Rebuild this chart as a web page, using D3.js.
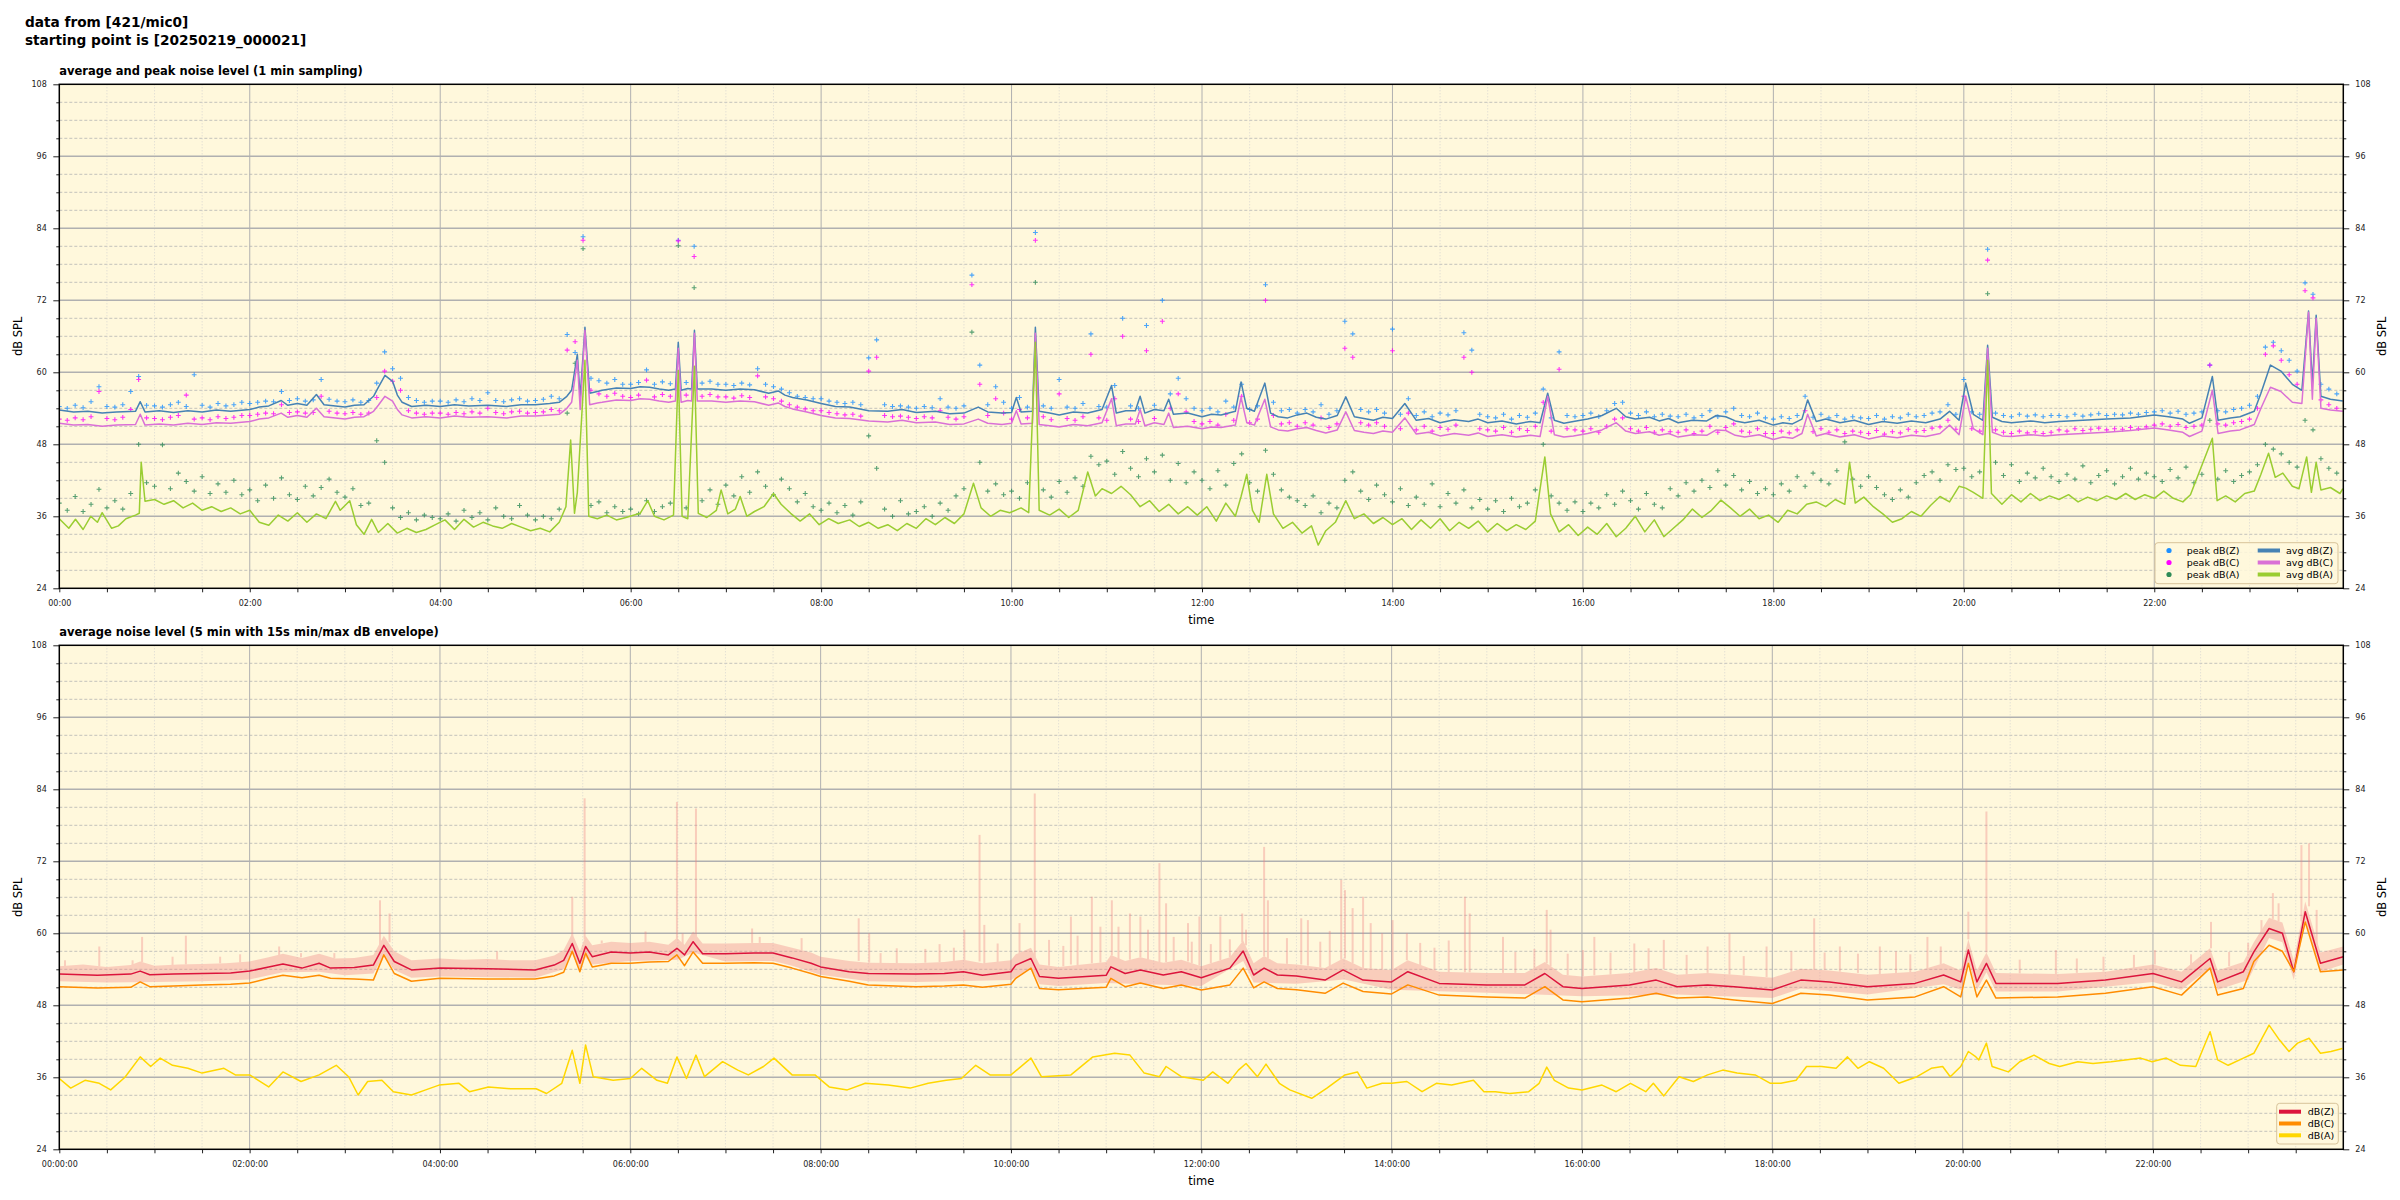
<!DOCTYPE html>
<html>
<head>
<meta charset="utf-8">
<script src="https://cdn.jsdelivr.net/npm/d3@7"></script>
<style>
  body { margin: 0; background: #fff; }
  svg { font-family: "DejaVu Sans", sans-serif; }
</style>
</head>
<body>
<svg id="chart" width="2400" height="1200"></svg>
<script>
// ---- data (time in hours since 00:00, level in dB SPL) ----

var yTicks = [24, 36, 48, 60, 72, 84, 96, 108];
var hourTicks = [0, 2, 4, 6, 8, 10, 12, 14, 16, 18, 20, 22];

// 1 min sampling, shown every 5 min: peak levels
var peakZ = [
54.3,54.0,54.5,54.1,55.1,57.6,54.3,54.2,54.6,56.8,59.3,54.5,
54.4,54.2,54.6,55.0,54.3,59.6,54.5,54.2,54.8,54.4,54.6,55.0,
54.8,55.0,55.2,55.1,56.8,55.3,55.6,55.2,55.4,58.8,55.5,55.2,
55.1,55.4,55.0,55.3,58.2,63.4,60.6,59.0,55.8,55.3,55.0,55.2,
55.2,55.0,55.4,55.1,55.6,55.3,56.6,55.3,55.1,55.4,55.6,55.2,
55.3,55.5,56.0,55.6,66.3,63.3,82.6,59.0,58.6,58.2,58.8,58.0,
58.0,58.3,60.4,58.0,58.4,58.1,82.0,58.3,81.0,58.2,58.5,58.0,
58.0,57.8,58.2,57.9,60.6,58.0,57.6,57.2,56.6,56.0,55.8,55.6,
55.6,55.2,55.0,54.8,55.0,54.6,62.4,65.4,54.6,54.3,54.4,54.2,
54.0,54.3,54.1,55.6,54.2,54.0,54.4,76.2,61.2,54.6,57.6,55.0,
54.0,55.8,54.2,83.3,54.4,54.0,58.8,54.2,54.0,54.8,66.4,54.3,
54.2,57.8,69.0,54.4,54.0,67.8,54.5,72.0,56.4,59.0,55.6,54.0,
53.6,54.0,53.4,55.2,54.2,58.0,53.8,54.4,74.6,55.0,53.6,53.8,
53.2,53.8,53.4,54.6,53.0,53.6,68.5,66.4,53.8,53.4,53.8,53.2,
67.2,53.0,55.6,52.8,53.4,52.6,53.2,52.9,53.6,66.6,63.7,53.0,
52.6,52.4,53.0,52.2,52.8,52.5,53.2,57.2,52.4,63.4,52.8,52.6,
52.8,53.2,52.6,53.6,54.8,55.0,53.2,52.8,53.4,52.6,53.0,52.7,
52.6,53.0,52.4,52.8,53.6,52.6,53.4,54.0,52.8,52.6,53.2,52.4,
52.2,52.6,52.3,52.8,56.0,52.5,53.0,52.4,52.8,52.2,52.6,52.4,
52.3,52.8,52.2,52.6,52.4,53.0,52.6,52.8,53.2,53.4,54.6,53.0,
58.8,53.4,53.0,80.5,53.2,52.8,52.6,53.0,52.7,52.9,52.6,52.8,
52.8,52.6,53.0,52.7,52.9,53.1,52.8,53.0,52.9,53.2,53.0,53.3,
53.4,53.6,53.2,53.5,53.0,53.2,53.4,61.2,53.6,53.4,53.8,54.0,
54.5,56.0,64.2,65.0,63.6,62.0,60.2,74.9,73.0,58.0,57.2,56.4
];

var peakC = [
52.2,52.0,52.4,52.1,52.6,56.8,52.3,52.1,52.5,53.8,58.8,52.4,
52.3,52.1,52.5,52.8,56.2,52.2,52.4,52.1,52.6,52.3,52.5,52.8,
52.8,53.0,53.2,53.1,54.6,53.3,53.4,53.2,53.3,56.0,53.5,53.2,
53.1,53.3,53.0,53.2,55.8,60.2,58.5,57.0,53.6,53.2,53.0,53.2,
53.2,53.0,53.3,53.1,53.4,53.2,54.0,53.3,53.1,53.4,53.5,53.2,
53.3,53.4,53.8,53.6,63.7,65.1,82.0,57.0,56.4,56.0,56.5,56.0,
55.8,56.2,58.7,55.9,56.3,56.0,81.9,56.2,79.3,56.0,56.3,55.9,
55.9,55.7,56.1,55.8,59.4,55.9,55.6,55.2,54.6,54.2,53.9,53.6,
53.6,53.3,53.1,52.9,53.0,52.7,60.2,62.5,52.8,52.6,52.7,52.5,
52.3,52.6,52.4,53.6,52.5,52.2,52.6,74.6,58.0,52.8,55.6,53.2,
52.2,53.8,52.4,82.0,52.6,52.1,56.4,52.3,52.0,52.6,63.0,52.4,
52.0,55.6,66.0,52.2,51.8,63.6,52.3,68.5,54.0,56.4,53.4,51.8,
51.4,51.8,51.2,53.0,52.0,56.0,51.6,52.2,72.0,52.8,51.4,51.6,
51.0,51.6,51.2,52.4,50.8,51.4,64.0,62.5,51.6,51.2,51.6,51.0,
63.6,50.6,53.2,50.4,51.0,50.2,50.8,50.5,51.2,62.5,60.0,50.6,
50.4,50.2,50.8,50.0,50.6,50.3,51.0,55.0,50.2,60.5,50.6,50.4,
50.2,50.6,50.0,51.0,52.2,52.4,50.6,50.2,50.8,50.0,50.4,50.1,
50.0,50.4,49.8,50.2,51.0,50.0,50.8,51.4,50.2,50.0,50.6,49.8,
49.8,50.2,49.9,50.4,53.6,50.1,50.6,50.0,50.4,49.8,50.2,50.0,
49.8,50.3,49.7,50.1,49.9,50.5,50.1,50.3,50.7,50.9,52.0,50.5,
56.0,50.6,50.2,78.7,50.4,50.0,49.8,50.2,49.9,50.1,49.8,50.0,
50.4,50.2,50.6,50.3,50.5,50.7,50.4,50.6,50.5,50.8,50.6,50.9,
51.2,51.4,51.0,51.3,50.8,51.0,51.2,61.2,51.4,51.2,51.6,51.8,
52.2,54.0,63.0,64.4,62.0,59.6,58.0,73.6,72.4,55.4,54.6,54.0
];

var peakA = [
38.2,37.0,39.3,36.8,38.0,40.5,37.4,38.6,37.2,39.8,48.0,41.6,
41.0,47.9,40.6,43.2,41.8,40.2,42.6,39.8,41.4,40.0,42.0,39.6,
40.4,38.6,41.2,39.0,42.4,39.6,38.8,41.0,39.4,40.8,42.2,40.0,
39.2,40.6,37.8,38.2,48.6,45.0,37.4,35.8,36.6,35.4,36.2,35.8,
35.6,36.4,35.2,37.0,35.8,36.6,35.4,37.4,36.0,35.6,37.8,36.2,
35.4,36.0,35.6,37.2,53.2,61.5,80.6,37.8,38.4,36.6,37.6,36.8,
37.2,36.4,38.6,36.8,37.6,38.2,81.1,37.4,74.1,38.6,40.4,38.0,
41.2,39.4,42.6,40.0,43.4,41.0,39.6,42.2,40.6,38.4,39.8,37.6,
37.0,38.2,36.6,37.8,36.2,38.4,49.4,44.0,37.2,36.0,38.6,36.4,
36.8,37.6,36.0,38.2,37.0,39.4,40.6,66.7,45.0,40.2,41.4,39.6,
40.2,39.0,41.6,75.0,40.4,39.2,41.8,40.0,42.4,41.0,46.0,44.6,
45.2,43.0,46.8,44.0,42.6,45.6,43.4,46.2,42.0,44.8,41.6,43.4,
42.0,40.6,43.6,41.2,44.8,46.4,41.6,40.2,47.0,43.0,40.4,39.2,
38.6,37.8,39.4,36.6,38.2,37.4,42.0,43.4,40.2,38.8,41.2,39.6,
38.4,40.6,37.8,39.2,38.0,41.4,37.6,39.8,38.2,40.4,37.4,38.8,
37.2,38.6,36.8,39.0,37.6,38.2,40.4,48.0,39.4,38.2,37.0,38.4,
36.8,38.2,37.4,39.6,38.0,40.2,38.6,37.2,39.8,38.0,37.4,40.6,
39.4,41.6,40.2,42.0,40.8,43.6,41.2,42.8,40.4,41.8,39.8,40.6,
39.6,41.4,40.2,42.6,41.0,43.2,42.0,41.4,43.6,48.4,42.2,41.0,
42.6,40.8,39.6,38.8,40.4,39.2,41.6,42.8,43.4,42.0,44.6,43.8,
44.0,42.6,43.4,73.1,45.0,42.8,44.6,41.8,43.2,42.4,44.0,42.6,
41.8,43.0,42.2,44.4,41.6,42.8,43.6,41.4,42.6,44.0,42.2,43.2,
42.6,41.8,43.8,42.4,44.2,41.6,43.0,52.0,42.2,43.6,41.8,42.8,
43.4,44.6,48.0,47.2,46.4,45.0,44.2,52.0,50.4,45.6,44.0,43.2
];

// 1 min averages [hour, dB]
var avgZ = [[0,53.7],[0.15,53.4],[0.3,53.5],[0.45,53.2],[0.6,53.4],[0.8,53.5],[0.85,55.1],[0.9,53.4],[1.05,53.6],[1.2,53.3],[1.35,53.6],[1.5,53.4],[1.65,53.7],[1.8,53.5],[2,53.8],[2.1,54.2],[2.2,54.4],[2.33,55.3],[2.4,54.5],[2.5,54.8],[2.6,54.5],[2.7,56.3],[2.78,54.6],[2.9,54.4],[3,54.2],[3.1,54.5],[3.2,54.6],[3.3,56],[3.35,57.5],[3.42,59.5],[3.5,58.5],[3.55,56.2],[3.6,55],[3.7,54.3],[3.85,54.5],[4,54.3],[4.15,54.6],[4.3,54.4],[4.5,54.5],[4.7,54.3],[4.85,54.6],[5,54.6],[5.15,54.8],[5.25,55],[5.33,56],[5.38,57],[5.44,63],[5.47,55.8],[5.52,67.5],[5.57,56.5],[5.65,56.8],[5.7,57],[5.85,57.4],[6,57.3],[6.1,57.6],[6.2,57.5],[6.3,57.2],[6.4,57],[6.47,57.2],[6.5,65],[6.53,57],[6.6,57.3],[6.64,57.2],[6.67,67],[6.7,57.2],[6.85,57.2],[7,57],[7.15,57.2],[7.3,57.1],[7.45,56.5],[7.55,56.9],[7.62,56.2],[7.7,55.8],[7.85,55.4],[8,54.8],[8.15,54.3],[8.3,54.2],[8.5,53.6],[8.7,53.5],[8.85,53.8],[9,53.3],[9.2,53.5],[9.35,53.1],[9.5,53.2],[9.65,54.2],[9.75,53.4],[9.9,53.2],[10,53.3],[10.05,55.8],[10.1,53.4],[10.22,53.5],[10.25,67.5],[10.29,53.5],[10.4,53.2],[10.5,52.9],[10.65,53.4],[10.8,53.2],[10.95,53.8],[11.05,57.8],[11.1,53.2],[11.2,53.6],[11.3,53.6],[11.35,56],[11.4,53.2],[11.5,53.8],[11.6,53.6],[11.65,55.5],[11.7,53],[11.85,53.2],[12,52.6],[12.1,53],[12.2,52.9],[12.35,53.5],[12.41,58.4],[12.47,54],[12.55,53.5],[12.66,58.2],[12.72,53.2],[12.8,52.6],[12.9,52.4],[13,52.9],[13.1,53.2],[13.2,52.5],[13.3,52.2],[13.42,52.8],[13.51,55.9],[13.6,52.6],[13.7,52.3],[13.8,52],[13.9,52.5],[14,52.3],[14.13,54.8],[14.25,52],[14.38,52.3],[14.5,51.6],[14.65,52.1],[14.8,51.8],[14.9,52.2],[15,51.6],[15.15,51.9],[15.3,51.4],[15.45,51.8],[15.55,51.6],[15.63,56.5],[15.7,52],[15.8,51.5],[15.9,51.8],[16.05,52.2],[16.2,52.8],[16.35,54],[16.45,52.6],[16.55,52.2],[16.7,52.5],[16.8,51.9],[16.9,52.3],[17,51.6],[17.15,52],[17.3,51.9],[17.4,52.8],[17.5,52.6],[17.6,51.9],[17.7,51.6],[17.85,52],[18,51.2],[18.1,51.6],[18.2,51.4],[18.3,52.2],[18.36,55.4],[18.45,51.8],[18.55,52.2],[18.7,51.6],[18.85,52],[19,51.3],[19.15,51.8],[19.3,51.5],[19.45,51.9],[19.6,51.6],[19.75,52.2],[19.85,53.5],[19.95,52],[20.02,58.2],[20.1,53],[20.2,52],[20.25,64.5],[20.3,52.5],[20.4,51.8],[20.5,51.6],[20.7,51.9],[20.85,51.6],[21,51.8],[21.25,52],[21.5,52.2],[21.75,52.4],[22,52.9],[22.15,52.6],[22.3,52.2],[22.37,51.5],[22.5,52.4],[22.61,59.3],[22.67,52],[22.8,52.4],[22.9,52.6],[23.05,53.5],[23.12,56.5],[23.22,61.2],[23.33,60.2],[23.45,58],[23.55,57],[23.62,70.2],[23.66,58],[23.7,69.5],[23.75,56],[23.85,55.5],[23.98,55.2]];

var avgC = [[0,51.5],[0.15,51.2],[0.3,51.3],[0.45,51],[0.6,51.2],[0.8,51.3],[0.85,53],[0.9,51.2],[1.05,51.4],[1.2,51.2],[1.35,51.5],[1.5,51.3],[1.65,51.6],[1.8,51.5],[2,51.8],[2.1,52.2],[2.2,52.4],[2.33,53.2],[2.4,52.5],[2.5,52.8],[2.6,52.5],[2.7,54],[2.78,52.6],[2.9,52.4],[3,52.2],[3.1,52.5],[3.2,52.6],[3.3,53.5],[3.35,54.5],[3.42,56],[3.5,55.2],[3.55,53.8],[3.6,52.9],[3.7,52.4],[3.85,52.6],[4,52.4],[4.15,52.7],[4.3,52.5],[4.5,52.6],[4.7,52.4],[4.85,52.7],[5,52.7],[5.15,52.9],[5.25,53],[5.33,54],[5.38,55],[5.44,62],[5.47,53.8],[5.52,67],[5.57,54.6],[5.65,54.9],[5.7,55],[5.85,55.4],[6,55.3],[6.1,55.6],[6.2,55.5],[6.3,55.2],[6.4,55],[6.47,55.2],[6.5,64],[6.53,55],[6.6,55.3],[6.64,55.2],[6.67,66.5],[6.7,55.2],[6.85,55.2],[7,55],[7.15,55.2],[7.3,55.1],[7.45,54.5],[7.55,54.9],[7.62,54.3],[7.7,53.9],[7.85,53.4],[8,52.8],[8.15,52.4],[8.3,52.3],[8.5,51.9],[8.7,51.7],[8.85,52],[9,51.6],[9.2,51.7],[9.35,51.3],[9.5,51.4],[9.65,52.2],[9.75,51.5],[9.9,51.3],[10,51.5],[10.05,53.6],[10.1,51.4],[10.22,51.5],[10.25,66.5],[10.29,51.3],[10.4,51.1],[10.5,50.9],[10.65,51.3],[10.8,51.1],[10.95,51.6],[11.05,55.6],[11.1,51.1],[11.2,51.4],[11.3,51.4],[11.35,53.8],[11.4,51.1],[11.5,51.6],[11.6,51.3],[11.65,53.2],[11.7,50.8],[11.85,51],[12,50.6],[12.1,50.9],[12.2,50.8],[12.35,51.2],[12.41,55.8],[12.47,51.6],[12.55,51.2],[12.66,55.5],[12.72,50.9],[12.8,50.4],[12.9,50.2],[13,50.6],[13.1,50.8],[13.2,50.3],[13.3,49.9],[13.42,50.4],[13.51,53.4],[13.6,50.3],[13.7,50],[13.8,49.8],[13.9,50.2],[14,50],[14.13,52.4],[14.25,49.7],[14.38,50],[14.5,49.4],[14.65,49.8],[14.8,49.5],[14.9,49.9],[15,49.3],[15.15,49.6],[15.3,49.2],[15.45,49.5],[15.55,49.3],[15.63,56],[15.7,49.6],[15.8,49.2],[15.9,49.4],[16.05,49.8],[16.2,50.4],[16.35,51.6],[16.45,50.2],[16.55,49.8],[16.7,50.1],[16.8,49.5],[16.9,49.8],[17,49.2],[17.15,49.6],[17.3,49.5],[17.4,50.4],[17.5,50.3],[17.6,49.5],[17.7,49.2],[17.85,49.6],[18,48.8],[18.1,49.2],[18.2,49],[18.3,49.8],[18.36,53],[18.45,49.4],[18.55,49.8],[18.7,49.2],[18.85,49.6],[19,48.9],[19.15,49.4],[19.3,49.1],[19.45,49.5],[19.6,49.3],[19.75,49.8],[19.85,51.2],[19.95,49.6],[20.02,56],[20.1,50.6],[20.2,49.6],[20.25,64],[20.3,50],[20.4,49.4],[20.5,49.3],[20.7,49.6],[20.85,49.4],[21,49.6],[21.25,49.8],[21.5,50],[21.75,50.3],[22,50.7],[22.15,50.4],[22.3,50],[22.37,49.3],[22.5,50.2],[22.61,57],[22.67,49.8],[22.8,50.2],[22.9,50.4],[23.05,51.3],[23.12,54],[23.22,57.5],[23.33,56.8],[23.45,55],[23.55,54.8],[23.62,70],[23.66,55.5],[23.7,69],[23.75,54],[23.85,53.7],[23.98,53.5]];

var avgA = [[0,35.6],[0.1,34],[0.17,35.5],[0.25,33.8],[0.33,36],[0.4,35],[0.45,36.6],[0.55,34],[0.62,34.4],[0.7,35.6],[0.8,36.2],[0.84,36.5],[0.86,45],[0.9,38.5],[1,38.8],[1.1,38],[1.2,38.6],[1.3,37.4],[1.4,38.2],[1.5,37],[1.6,37.6],[1.7,36.8],[1.8,37.4],[1.9,36.4],[2,37],[2.1,35],[2.2,34.5],[2.3,36.2],[2.4,35.2],[2.5,36.6],[2.6,35],[2.7,36.4],[2.8,35.6],[2.9,38.5],[2.95,37],[3.05,38.6],[3.12,34.6],[3.2,33],[3.28,35.5],[3.35,33.3],[3.45,34.8],[3.55,33.2],[3.65,34],[3.75,33.3],[3.85,33.8],[3.95,34.6],[4.05,35.4],[4.15,33.8],[4.25,35.5],[4.35,34.2],[4.45,35],[4.55,34.4],[4.65,34],[4.75,34.8],[4.85,34.2],[4.95,33.6],[5.05,34],[5.15,33.4],[5.25,35],[5.32,37.6],[5.37,48.7],[5.41,36.5],[5.44,40],[5.52,62],[5.56,36],[5.65,35.6],[5.75,36.2],[5.85,35.4],[5.95,35.8],[6.1,36.5],[6.18,38.6],[6.25,36],[6.35,35.4],[6.45,36.2],[6.5,60.3],[6.54,36],[6.6,35.6],[6.67,61],[6.71,36.5],[6.8,35.8],[6.9,37],[6.95,40.4],[7.02,36.4],[7.1,37.2],[7.15,39.3],[7.22,36],[7.3,36.8],[7.4,37.6],[7.5,39.8],[7.58,38],[7.68,36.5],[7.78,35.2],[7.88,36.4],[7.98,34.6],[8.08,35.6],[8.18,34.8],[8.3,35.4],[8.4,34.3],[8.5,35],[8.6,34],[8.7,34.6],[8.8,33.6],[8.9,34.8],[9,34],[9.1,35.6],[9.2,34.6],[9.3,35.8],[9.4,34.8],[9.5,36.4],[9.6,41.5],[9.68,37.4],[9.78,36],[9.88,37],[9.98,36.6],[10.1,37.4],[10.18,36.6],[10.25,65],[10.29,37],[10.4,36.2],[10.5,37.2],[10.6,35.8],[10.7,37],[10.8,43.4],[10.88,39.4],[10.95,40.6],[11.05,39.8],[11.15,41],[11.25,39.6],[11.35,37.6],[11.45,38.6],[11.55,36.8],[11.65,38],[11.75,36.4],[11.85,37.6],[11.95,36.2],[12.05,37.6],[12.15,35.2],[12.25,38.2],[12.35,36],[12.41,39.3],[12.47,43],[12.53,37],[12.6,35],[12.68,43],[12.75,36.4],[12.85,34],[12.95,35],[13.05,33.2],[13.15,34.4],[13.22,31.2],[13.3,33.6],[13.4,35],[13.51,38.6],[13.6,35.6],[13.7,36.4],[13.8,34.8],[13.9,35.8],[14,34.6],[14.1,35.6],[14.2,33.8],[14.3,35.4],[14.4,34],[14.5,35.6],[14.6,33.6],[14.7,35],[14.8,34],[14.9,35.2],[15,33.4],[15.1,34.8],[15.2,33.6],[15.3,34.6],[15.4,33.8],[15.5,35.2],[15.6,45.9],[15.66,36.4],[15.75,33.4],[15.85,34.6],[15.95,32.8],[16.05,34.2],[16.15,33],[16.25,34.8],[16.35,32.6],[16.45,34],[16.55,36],[16.65,33.4],[16.75,35.4],[16.85,32.6],[16.95,34],[17.05,35.4],[17.15,37.2],[17.25,35.8],[17.35,37],[17.45,38.7],[17.55,37.4],[17.65,36],[17.75,37.2],[17.85,35.6],[17.95,36.2],[18.05,35],[18.15,37],[18.25,36.4],[18.35,38],[18.45,38.4],[18.55,37.6],[18.65,38.8],[18.75,38],[18.8,45],[18.86,38.2],[18.95,39.2],[19.05,37.6],[19.15,36.4],[19.25,35],[19.35,35.6],[19.45,36.8],[19.55,36],[19.65,37.8],[19.75,39.3],[19.85,38.4],[19.95,41],[20.02,40.7],[20.1,40],[20.2,39],[20.25,62],[20.29,39.8],[20.4,38],[20.5,39.6],[20.6,38.4],[20.7,39.8],[20.8,38.6],[20.9,39.4],[21,38.8],[21.1,39.6],[21.2,38.4],[21.3,39.2],[21.4,38.6],[21.5,39.4],[21.6,38.8],[21.7,39.8],[21.8,38.8],[21.9,39.6],[22,39],[22.1,40.2],[22.2,39],[22.3,38.4],[22.38,39.6],[22.61,49],[22.66,38.6],[22.75,39.4],[22.85,38.4],[22.95,39.8],[23.05,40.2],[23.12,43],[23.2,46.5],[23.27,42.5],[23.35,43.2],[23.45,41],[23.52,40.6],[23.6,45.9],[23.65,40],[23.7,45],[23.75,40.4],[23.85,40.8],[23.95,39.8],[23.98,40.6]];

// 5 min averages [hour, dB]
var avg5Z = [[0,53.2],[0.4,53],[0.75,53.2],[0.85,53.7],[0.95,53.1],[1.2,53.2],[1.5,53.3],[1.8,53.4],[2,53.7],[2.2,54.4],[2.35,54.9],[2.55,54.2],[2.73,55],[2.85,54.2],[3.1,54.3],[3.3,54.7],[3.41,58],[3.52,55.3],[3.7,53.9],[4,54.2],[4.5,54.1],[5,53.9],[5.2,54.7],[5.3,55.5],[5.39,58.3],[5.47,55],[5.53,57.8],[5.6,56.1],[5.8,56.9],[6,56.7],[6.2,56.9],[6.4,56.4],[6.49,57.5],[6.57,56.4],[6.66,58.6],[6.76,56.6],[7,56.6],[7.3,56.7],[7.5,56.7],[7.7,55.9],[7.9,55],[8,54.4],[8.3,53.6],[8.5,53.3],[9,53.2],[9.3,53.3],[9.5,53.6],[9.7,53],[10,53.6],[10.05,54.7],[10.21,55.8],[10.3,52.8],[10.5,52.5],[11,53],[11.05,54.4],[11.2,53.3],[11.36,53.9],[11.6,53.05],[11.79,53.6],[12,52.6],[12.3,54.2],[12.44,57.05],[12.55,53.05],[12.66,54.2],[12.8,53.05],[13,52.9],[13.3,52.2],[13.49,53.9],[13.7,52.2],[14,51.9],[14.17,53.6],[14.5,51.65],[15,51.4],[15.4,51.4],[15.61,53.3],[15.8,51.1],[16,50.8],[16.5,51.4],[16.78,52.2],[17,51.1],[17.32,51.4],[17.6,51.1],[18,50.55],[18.3,52.2],[18.6,51.9],[19,51.1],[19.5,51.65],[19.8,53.05],[19.98,51.9],[20.06,57.2],[20.15,51.9],[20.25,55],[20.35,51.65],[21,51.65],[21.5,52.2],[22,53.3],[22.3,51.9],[22.6,55.8],[22.68,51.9],[22.95,53.6],[23.06,56.9],[23.22,60.8],[23.36,60],[23.48,53.6],[23.6,63.6],[23.76,55],[24,56.1]];

var avg5C = [[0,51.1],[0.4,50.9],[0.75,51],[0.85,51.9],[0.95,51.1],[1.2,51.2],[1.5,51.4],[1.8,51.5],[2,51.7],[2.2,52.5],[2.35,53],[2.55,52.6],[2.73,53],[2.85,52.5],[3.1,52.4],[3.3,52.2],[3.41,56.4],[3.52,53.3],[3.7,52],[4,52.5],[4.5,52.4],[5,52.4],[5.2,52.9],[5.3,53.5],[5.39,57],[5.47,53.6],[5.53,56.7],[5.6,54.4],[5.8,55],[6,55],[6.2,55.2],[6.4,55.3],[6.49,56.4],[6.57,54.6],[6.66,56.9],[6.76,55],[7,55],[7.3,55.1],[7.5,55],[7.7,54.2],[7.9,53.3],[8,52.8],[8.3,52],[8.5,51.4],[9,51.1],[9.3,51.2],[9.5,51.4],[9.7,51],[10,51.5],[10.05,52.5],[10.21,54.2],[10.3,50.8],[10.5,50.6],[11,51],[11.05,52.5],[11.2,51.1],[11.36,51.7],[11.6,50.8],[11.79,51.4],[12,50.55],[12.3,51.4],[12.44,54.2],[12.55,50.9],[12.66,51.9],[12.8,50.8],[13,50.6],[13.3,50],[13.49,51.7],[13.7,50.3],[14,49.9],[14.17,51.4],[14.5,49.7],[15,49.4],[15.4,49.2],[15.61,51.1],[15.8,48.9],[16,48.6],[16.5,49.2],[16.78,50],[17,49.2],[17.32,49.4],[17.6,48.9],[18,48.3],[18.3,50],[18.6,49.7],[19,48.9],[19.5,49.4],[19.8,51.1],[19.98,49.4],[20.06,55],[20.15,49.4],[20.25,52.2],[20.35,49.2],[21,49.4],[21.5,50],[22,51.1],[22.3,49.7],[22.6,54.2],[22.68,49.7],[22.95,50.8],[23.06,55.3],[23.22,58],[23.36,57],[23.48,53.6],[23.6,61.9],[23.76,53.6],[24,53.9]];

var avg5A = [[0,35.8],[0.12,34.2],[0.27,35.5],[0.42,35],[0.54,33.9],[0.69,36],[0.85,39.4],[0.96,37.8],[1.06,39.2],[1.19,38],[1.35,37.5],[1.5,36.7],[1.73,37.5],[1.85,36.4],[2,36.4],[2.2,34.4],[2.35,36.9],[2.54,35.3],[2.73,36.4],[2.91,38],[3.04,36.1],[3.14,33.05],[3.24,35.3],[3.39,35.5],[3.51,33.6],[3.7,33.05],[3.85,33.9],[3.99,34.7],[4.2,35],[4.31,33.6],[4.51,34.4],[4.74,34.1],[5.01,34.1],[5.12,33.3],[5.28,35],[5.39,40.5],[5.47,35],[5.53,41.4],[5.61,36.1],[5.82,35.5],[6,35.8],[6.12,37.5],[6.28,35.5],[6.39,35],[6.49,39.4],[6.59,35.8],[6.69,39.7],[6.78,36.1],[6.97,38.6],[7.13,37.2],[7.24,36.4],[7.4,37.8],[7.51,39.2],[7.7,36.4],[7.94,36.4],[8.09,34.4],[8.28,33.9],[8.47,35],[8.71,34.7],[8.94,34.2],[9.13,35],[9.32,35.5],[9.48,35.8],[9.63,38],[9.78,36.4],[10,36.4],[10.21,39.2],[10.32,36.1],[10.63,36.4],[10.86,39.4],[11.09,40],[11.25,39.7],[11.4,36.7],[11.56,36.1],[11.63,37.8],[11.79,36.1],[12.02,35.5],[12.12,36.9],[12.28,35],[12.39,37.2],[12.47,38.3],[12.59,36.1],[12.68,38.2],[12.82,35],[12.93,33.9],[13.16,32.5],[13.32,34.2],[13.51,36.4],[13.64,36.9],[13.74,34.2],[13.9,35],[14,35],[14.16,35.3],[14.32,33.6],[14.47,35],[14.63,34.7],[14.86,35.5],[14.97,33.6],[15.09,33.6],[15.24,33.3],[15.44,33.6],[15.55,35],[15.63,37.7],[15.71,35.5],[15.86,34.2],[16,33.9],[16.21,34.7],[16.36,33.6],[16.51,35],[16.67,33.6],[16.75,35],[16.86,32.9],[17.02,36.1],[17.17,35.3],[17.32,36.4],[17.48,37.2],[17.63,36.7],[17.82,36.4],[17.98,35],[18.09,35],[18.25,35.5],[18.36,37.8],[18.52,37.8],[18.67,37.5],[18.79,39.4],[18.9,37.5],[19.02,38.6],[19.17,37.5],[19.33,35],[19.52,36.1],[19.67,37.5],[19.79,37.8],[19.87,36.1],[19.98,37.8],[20.06,40.3],[20.14,39.4],[20.17,38.9],[20.25,41.7],[20.31,37.8],[20.48,36.9],[20.6,38.6],[20.75,39.7],[20.91,38.3],[21.02,37.8],[21.21,38.6],[21.37,38.3],[21.56,38.6],[21.71,38.9],[21.87,39.2],[21.99,38.6],[22.14,39.2],[22.29,38],[22.45,37.8],[22.6,43.6],[22.68,38.9],[22.79,38],[22.95,39.2],[23.06,40],[23.22,44.7],[23.33,42.2],[23.43,40.3],[23.52,41.7],[23.64,42.5],[23.76,40],[23.87,40.3],[23.99,40.8]];

// 15 s min / max envelope of dB(Z): band top, band bottom [hour, dB]
var envHi = [[0,54.5],[0.25,54.8],[0.5,54.4],[0.75,54.7],[0.85,55.3],[1,54.6],[1.25,54.8],[1.5,54.9],[1.75,55],[2,55.3],[2.2,56],[2.35,56.6],[2.55,55.9],[2.73,56.6],[2.9,55.8],[3.1,55.9],[3.3,56.4],[3.41,59.6],[3.52,57],[3.7,55.5],[4,55.8],[4.25,55.6],[4.5,55.7],[4.75,55.5],[5,55.5],[5.2,56.3],[5.3,57.2],[5.39,60],[5.47,57],[5.53,59.6],[5.6,58],[5.8,58.6],[6,58.4],[6.2,58.6],[6.4,58.1],[6.49,59.2],[6.57,58.1],[6.66,60.3],[6.76,58.3],[7,58.3],[7.3,58.4],[7.5,58.4],[7.7,57.6],[7.9,56.8],[8,56.1],[8.3,55.4],[8.5,55.1],[9,55],[9.3,55.2],[9.5,55.6],[9.7,55],[10,55.5],[10.05,56.5],[10.21,57.6],[10.3,54.8],[10.5,54.4],[11,55.2],[11.05,56.4],[11.2,55.4],[11.36,56],[11.6,55.1],[11.79,55.6],[12,54.5],[12.3,56],[12.44,58.8],[12.55,55],[12.66,56.2],[12.8,55],[13,54.8],[13.3,54.2],[13.49,55.8],[13.7,54.2],[14,53.9],[14.17,55.5],[14.5,53.6],[15,53.4],[15.4,53.4],[15.61,55.2],[15.8,53.1],[16,52.8],[16.5,53.4],[16.78,54.2],[17,53.1],[17.32,53.4],[17.6,53.1],[18,52.6],[18.3,54.1],[18.6,53.8],[19,53.1],[19.5,53.6],[19.8,55],[19.98,53.8],[20.06,59],[20.15,53.8],[20.25,56.8],[20.35,53.4],[21,53.2],[21.5,53.6],[22,54.8],[22.3,53.6],[22.6,57.5],[22.68,53.8],[22.95,55.2],[23.06,58.5],[23.22,62.6],[23.36,61.8],[23.48,55.5],[23.6,65.3],[23.76,56.8],[24,57.8]];

var envLo = [[0,52],[0.5,51.8],[1,51.9],[1.5,52],[2,52.3],[2.35,53.5],[2.73,53.6],[3,53],[3.3,53.3],[3.41,56.2],[3.52,53.9],[3.7,52.6],[4,52.8],[5,52.6],[5.3,54],[5.39,56.6],[5.47,53.6],[5.53,56],[5.6,54.8],[6,55.4],[6.5,55.6],[6.66,56.8],[7,55.3],[7.5,55.4],[7.7,54.6],[8,53.1],[8.5,52],[9,51.9],[10,52.2],[10.21,54.3],[10.3,51.5],[10.5,51.2],[11,51.7],[12,51.2],[12.44,55.4],[12.55,51.8],[13,51.6],[13.5,52.3],[14,50.6],[15,50.1],[16,49.5],[17,49.8],[18,49.2],[18.3,50.8],[19,49.8],[19.8,51.5],[20,50.5],[20.06,55.4],[20.15,50.5],[20.25,53.5],[20.35,50.3],[21,50.3],[22,51.9],[22.3,50.6],[22.6,54.2],[22.68,50.6],[23,52.2],[23.22,59.2],[23.36,58.5],[23.48,52.2],[23.6,62],[23.76,53.6],[24,54.8]];

// short max spikes above the band [hour, from dB, to dB]
var envSpikes = [[0.06,54.5,55.5],[0.42,54.5,57.8],[0.77,54.7,55.5],[0.87,55.2,59.4],[1.19,54.7,56.1],[1.33,54.8,59.6],[1.69,55,56.1],[1.9,55.1,56.5],[2.31,56.3,57.8],[2.54,56,56.7],[2.89,55.8,56.7],[3.37,58,65.5],[3.47,58.5,63.3],[4.6,55.6,57],[5.39,59.5,66.1],[5.52,59,82.5],[5.7,58.3,58.8],[6.16,58.5,60.3],[6.49,59,81.9],[6.55,58.2,60],[6.69,59.5,80.8],[7.28,58.4,60.8],[7.36,58.4,59.4],[7.8,57.2,59.2],[8.4,55.4,62.5],[8.51,55.1,60],[8.63,55,56.7],[8.8,55,57.5],[9.1,55.1,57.4],[9.25,55.2,58.2],[9.4,55.4,57.6],[9.51,55.5,60.6],[9.67,55.3,76.4],[9.72,55,61.4],[9.86,55.2,58.3],[10.09,56.7,61.7],[10.25,56,83.3],[10.4,54.6,58.9],[10.55,54.5,57.9],[10.63,54.8,62.8],[10.7,54.7,59.6],[10.85,55,66.1],[10.94,55.1,61.1],[11.06,56.3,65.5],[11.13,55.6,61.1],[11.25,55.6,63.3],[11.36,56,62.8],[11.44,55.6,60.6],[11.56,55.1,71.7],[11.63,55.2,65],[11.71,55.4,59.4],[11.86,55.3,61.7],[11.9,55,58.6],[11.98,54.6,62.8],[12.1,55,58.2],[12.2,55.5,62.8],[12.3,56,59],[12.43,58.5,63.3],[12.47,58,60.6],[12.66,56.2,74.4],[12.7,55.8,65.5],[12.9,54.9,59.2],[13.05,54.8,62.5],[13.12,54.6,62.2],[13.25,54.3,58.6],[13.35,54.4,60.4],[13.47,55.6,68.9],[13.51,55.8,67.2],[13.59,55,64.2],[13.7,54.2,66.1],[13.78,54.1,61.7],[13.9,54,60],[14.01,54,62.2],[14.16,55.5,60],[14.3,54.4,58.4],[14.45,53.7,57.6],[14.6,53.5,58.8],[14.77,53.5,66.1],[14.82,53.5,63.3],[15.17,53.4,59.4],[15.3,53.4,56.9],[15.5,53.8,57.4],[15.63,55,63.9],[15.67,54.5,60.6],[15.85,53,56.6],[16.01,52.8,57.2],[16.13,53,59.4],[16.3,53.1,56.8],[16.55,53.4,58.3],[16.7,53.8,57.5],[16.86,54,58.9],[17.1,53.1,56.4],[17.32,53.4,57.8],[17.55,53.1,60],[17.7,53,56.2],[17.94,52.7,57.8],[18.2,53.6,57],[18.44,53.9,62.5],[18.55,53.9,56.8],[18.71,53.6,57.8],[18.9,53.4,56.6],[19.13,53.2,57.8],[19.3,53.3,57],[19.45,53.5,56.5],[19.63,53.8,59.4],[19.77,54.8,57.8],[20.06,59,63.6],[20.25,56.8,80.3],[20.6,53.3,55.6],[20.98,53.2,57.2],[21.2,53.4,55.8],[21.48,53.6,56.1],[21.8,54.2,56.4],[22.02,54.8,57.2],[22.4,53.8,56.5],[22.61,57.5,61.9],[22.8,54.5,56.9],[23,55,58.4],[23.14,60,62.2],[23.26,62.4,66.7],[23.32,62,65],[23.56,62,74.7],[23.64,64.5,75],[23.72,58,63.9]];

// ---- drawing ----
var svg = d3.select("#chart"),
    X0 = 59.3, X1 = 2343.3, H = 504;

function hhmm(h, secs) {
  var s = d3.format("02d")(h) + ":00";
  return secs ? s + ":00" : s;
}

function panel(top, hMax, secs, title, id) {
  var x = d3.scaleLinear().domain([0, hMax]).range([X0, X1]);
  var y = d3.scaleLinear().domain([24, 108]).range([top + H, top]);
  var g = svg.append("g");

  g.append("rect").attr("x", X0).attr("y", top).attr("width", X1 - X0).attr("height", H)
    .attr("fill", "#fff8dc");

  // grid
  var minY = d3.range(24, 109, 3).filter(function(v) { return v % 12; });
  var minX = d3.range(0.5, hMax, 0.5).filter(function(v) { return v % 2; });
  g.selectAll(".gmy").data(minY).enter().append("line")
    .attr("x1", X0).attr("x2", X1).attr("y1", y).attr("y2", y)
    .attr("stroke", "#b4b4b4").attr("stroke-width", 0.8).attr("stroke-dasharray", "3,2");
  g.selectAll(".gmx").data(minX).enter().append("line")
    .attr("x1", x).attr("x2", x).attr("y1", top).attr("y2", top + H)
    .attr("stroke", "#cfcfcf").attr("stroke-width", 0.8).attr("stroke-dasharray", "1,2");
  g.selectAll(".gy").data(yTicks.slice(1, -1)).enter().append("line")
    .attr("x1", X0).attr("x2", X1).attr("y1", y).attr("y2", y)
    .attr("stroke", "#b0b0b0").attr("stroke-width", 1.4);
  g.selectAll(".gx").data(hourTicks.slice(1)).enter().append("line")
    .attr("x1", x).attr("x2", x).attr("y1", top).attr("y2", top + H)
    .attr("stroke", "#b0b0b0").attr("stroke-width", 1);

  svg.append("clipPath").attr("id", id).append("rect")
    .attr("x", X0).attr("y", top).attr("width", X1 - X0).attr("height", H);
  var plot = svg.append("g").attr("clip-path", "url(#" + id + ")");

  // axes
  var ax = svg.append("g").attr("transform", "translate(0," + (top + H) + ")")
    .call(d3.axisBottom(x).tickValues(d3.range(0, hMax, 0.5)).tickSize(4).tickPadding(8)
      .tickFormat(function(d) { return d % 2 ? "" : hhmm(d, secs); }));
  var yl = svg.append("g").attr("transform", "translate(" + X0 + ",0)")
    .call(d3.axisLeft(y).tickValues(d3.range(24, 109, 3)).tickSize(6).tickPadding(6.5)
      .tickFormat(function(d) { return d % 12 ? "" : d; }));
  var yr = svg.append("g").attr("transform", "translate(" + X1 + ",0)")
    .call(d3.axisRight(y).tickValues(d3.range(24, 109, 3)).tickSize(6).tickPadding(6)
      .tickFormat(function(d) { return d % 12 ? "" : d; }));
  yl.selectAll(".tick line").filter(function(d) { return d % 12; }).attr("x2", -3);
  yr.selectAll(".tick line").filter(function(d) { return d % 12; }).attr("x2", 3);
  [ax, yl, yr].forEach(function(a) {
    a.select(".domain").remove();
    a.selectAll("text").attr("font-size", 8).attr("font-family", "DejaVu Sans").attr("fill", "#222");
    a.selectAll(".tick line").attr("stroke", "#222");
  });

  g.append("text").attr("x", X0).attr("y", top - 9.5).attr("font-size", 11.5)
    .attr("font-weight", "bold").text(title);
  svg.append("text").attr("x", (X0 + X1) / 2).attr("y", top + H + 36).attr("text-anchor", "middle")
    .attr("font-size", 11.5).text("time");
  svg.append("text").attr("transform", "translate(22," + (top + H / 2) + ") rotate(-90)")
    .attr("text-anchor", "middle").attr("font-size", 11.5).text("dB SPL");
  svg.append("text").attr("transform", "translate(2386," + (top + H / 2) + ") rotate(-90)")
    .attr("text-anchor", "middle").attr("font-size", 11.5).text("dB SPL");

  return { x: x, y: y, plot: plot, top: top };
}

function frame(p) {
  svg.append("rect").attr("x", X0).attr("y", p.top).attr("width", X1 - X0).attr("height", H)
    .attr("fill", "none").attr("stroke", "#000").attr("stroke-width", 1.5);
}

function legend(x, y, w, h) {
  return svg.append("rect").attr("x", x).attr("y", y).attr("width", w).attr("height", h)
    .attr("rx", 3).attr("fill", "#fff8dc").attr("fill-opacity", 0.85)
    .attr("stroke", "#d8c39a").attr("stroke-width", 1);
}

// suptitle
svg.append("text").attr("x", 24.9).attr("y", 26.8).attr("font-size", 13.7).attr("font-weight", "bold")
  .text("data from [421/mic0]");
svg.append("text").attr("x", 24.9).attr("y", 44.8).attr("font-size", 13.7).attr("font-weight", "bold")
  .text("starting point is [20250219_000021]");

// ---- top panel ----
var p1 = panel(84.3, 23.985, false, "average and peak noise level (1 min sampling)", "clipTop");

var peaks = [
  { name: "peak dB(Z)", data: peakZ, color: "#1e90ff" },
  { name: "peak dB(C)", data: peakC, color: "#ff00ff" },
  { name: "peak dB(A)", data: peakA, color: "#2e8b57" }
];
var avgs = [
  { name: "avg dB(Z)", data: avgZ, color: "#4682b4" },
  { name: "avg dB(C)", data: avgC, color: "#da70d6" },
  { name: "avg dB(A)", data: avgA, color: "#9acd32" }
];

peaks.forEach(function(s) {
  p1.plot.selectAll(null).data(s.data).enter().append("path")
    .attr("transform", function(d, i) { return "translate(" + p1.x(i * 5 / 60) + "," + p1.y(d) + ")"; })
    .attr("d", "M-2.4,0H2.4M0,-2.4V2.4")
    .attr("stroke", s.color).attr("stroke-width", 1.1).attr("stroke-opacity", 0.8);
});

var line1 = d3.line().x(function(d) { return p1.x(d[0]); }).y(function(d) { return p1.y(d[1]); });
avgs.forEach(function(s) {
  p1.plot.append("path").datum(s.data).attr("d", line1)
    .attr("fill", "none").attr("stroke", s.color).attr("stroke-width", 1.5)
    .attr("stroke-linejoin", "round");
});
frame(p1);

legend(2155, 542.7, 183, 41);
peaks.forEach(function(s, i) {
  var ry = 550.5 + i * 12;
  svg.append("circle").attr("cx", 2169).attr("cy", ry).attr("r", 2.6).attr("fill", s.color);
  svg.append("text").attr("x", 2186.7).attr("y", ry + 3.4).attr("font-size", 9.5).text(s.name);
});
avgs.forEach(function(s, i) {
  var ry = 550.5 + i * 12;
  svg.append("line").attr("x1", 2257.7).attr("x2", 2280).attr("y1", ry).attr("y2", ry)
    .attr("stroke", s.color).attr("stroke-width", 4);
  svg.append("text").attr("x", 2286).attr("y", ry + 3.4).attr("font-size", 9.5).text(s.name);
});

// ---- bottom panel ----
var p2 = panel(645.3, 24.0, true, "average noise level (5 min with 15s min/max dB envelope)", "clipBot");
var line2 = d3.line().x(function(d) { return p2.x(d[0]); }).y(function(d) { return p2.y(d[1]); });

var env = p2.plot.append("g").attr("opacity", 0.35);
env.append("path").datum(envHi.concat(envLo.slice().reverse()))
  .attr("d", function(d) { return line2(d) + "Z"; })
  .attr("fill", "#f08080").attr("stroke", "none");
env.selectAll(null).data(envSpikes).enter().append("line")
  .attr("x1", function(d) { return p2.x(d[0]); }).attr("x2", function(d) { return p2.x(d[0]); })
  .attr("y1", function(d) { return p2.y(d[1]); }).attr("y2", function(d) { return p2.y(d[2]); })
  .attr("stroke", "#f08080").attr("stroke-width", 2);

var lines5 = [
  { name: "dB(Z)", data: avg5Z, color: "#dc143c" },
  { name: "dB(C)", data: avg5C, color: "#ff8c00" },
  { name: "dB(A)", data: avg5A, color: "#ffd700" }
];
lines5.forEach(function(s) {
  p2.plot.append("path").datum(s.data).attr("d", line2)
    .attr("fill", "none").attr("stroke", s.color).attr("stroke-width", 1.5)
    .attr("stroke-linejoin", "round");
});
frame(p2);

legend(2276.7, 1103.3, 61.6, 40.7);
lines5.forEach(function(s, i) {
  var ry = 1111.7 + i * 11.8;
  svg.append("line").attr("x1", 2279).attr("x2", 2301).attr("y1", ry).attr("y2", ry)
    .attr("stroke", s.color).attr("stroke-width", 4);
  svg.append("text").attr("x", 2307.7).attr("y", ry + 3.4).attr("font-size", 9.5).text(s.name);
});
</script>
</body>
</html>
